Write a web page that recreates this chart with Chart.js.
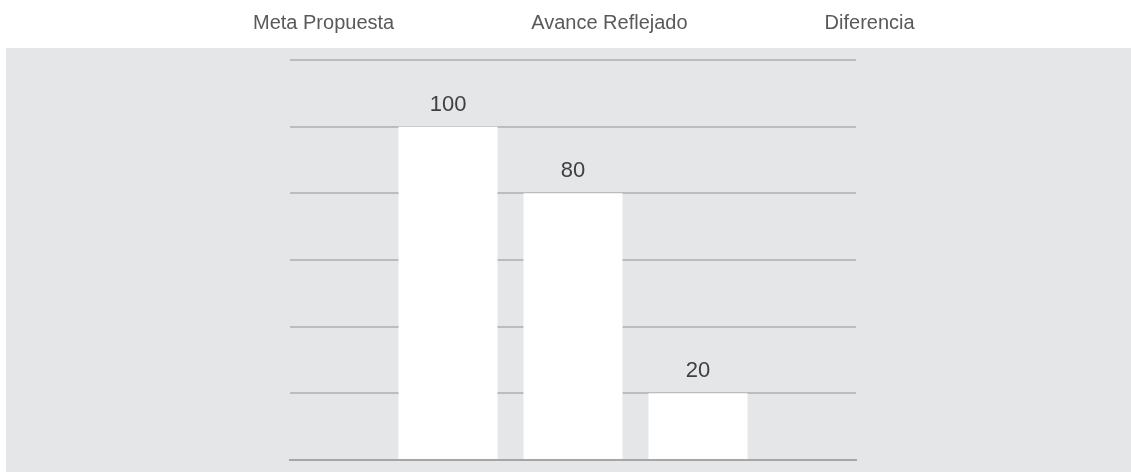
<!DOCTYPE html>
<html>
<head>
<meta charset="utf-8">
<script src="https://cdn.jsdelivr.net/npm/chart.js@4.4.1/dist/chart.umd.min.js"></script>
<style>
  html, body { margin: 0; padding: 0; background: #ffffff; }
  #wrap { width: 1131px; height: 472px; position: relative; }
</style>
</head>
<body>
<div id="wrap"><canvas id="chart"></canvas></div>
<script>
// data
const categories = [''];
const seriesNames = ['Meta Propuesta', 'Avance Reflejado', 'Diferencia'];
const metaPropuesta = [100];
const avanceReflejado = [80];
const diferencia = [20];
const yTicks = [0, 20, 40, 60, 80, 100, 120];

const FONT = '"Liberation Sans Narrow", "Liberation Sans", Arial, sans-serif';

// grey panel behind the plot
const panelBg = {
  id: 'panelBg',
  beforeDraw(chart) {
    const ctx = chart.ctx;
    ctx.save();
    ctx.fillStyle = '#e5e6e8';
    ctx.fillRect(6, 48, chart.width - 6, chart.height - 48);
    ctx.restore();
  }
};

// value labels above bars
const valueLabels = {
  id: 'valueLabels',
  afterDatasetsDraw(chart) {
    const ctx = chart.ctx;
    ctx.save();
    ctx.font = '22px ' + FONT;
    ctx.fillStyle = '#404040';
    ctx.textAlign = 'center';
    ctx.textBaseline = 'alphabetic';
    chart.data.datasets.forEach((ds, i) => {
      chart.getDatasetMeta(i).data.forEach((bar, j) => {
        ctx.fillText(String(ds.data[j]), bar.x, bar.y - 16);
      });
    });
    ctx.restore();
  }
};

const colors = ['#ffffff', '#ffffff', '#ffffff'];
const values = [metaPropuesta, avanceReflejado, diferencia];

new Chart(document.getElementById('chart'), {
  type: 'bar',
  data: {
    labels: categories,
    datasets: seriesNames.map((name, i) => ({
      label: name,
      data: values[i],
      backgroundColor: colors[i],
      borderColor: colors[i],
      borderWidth: 0,
      categoryPercentage: 0.6625,
      barPercentage: 0.792
    }))
  },
  options: {
    responsive: true,
    maintainAspectRatio: false,
    animation: false,
    layout: { padding: { left: 116, right: 0, top: 0, bottom: 0 } },
    plugins: {
      legend: {
        position: 'top',
        align: 'start',
        labels: {
          color: '#595959',
          font: { family: FONT, size: 20 },
          boxWidth: 114,
          boxHeight: 20,
          padding: 13
        }
      },
      tooltip: { enabled: false }
    },
    scales: {
      x: {
        grid: { display: false },
        ticks: { display: false },
        border: { display: true, color: '#a6a6a6', width: 2 },
        afterFit: s => { s.height = 12; }
      },
      xt: {
        type: 'category',
        position: 'top',
        labels: categories,
        grid: { display: false },
        ticks: { display: false },
        border: { display: false },
        afterFit: s => { s.height = 17; }
      },
      y: {
        min: 0,
        max: 120,
        afterBuildTicks: s => { s.ticks = yTicks.map(v => ({ value: v })); },
        grid: { color: '#bcbcbe', lineWidth: 2, drawTicks: false },
        ticks: { display: false },
        border: { display: false },
        afterFit: s => { s.width = 290 - 116; }
      },
      yr: {
        type: 'linear',
        position: 'right',
        grid: { display: false },
        ticks: { display: false },
        border: { display: false },
        afterFit: s => { s.width = 275; }
      }
    }
  },
  plugins: [panelBg, valueLabels]
});
</script>
</body>
</html>
